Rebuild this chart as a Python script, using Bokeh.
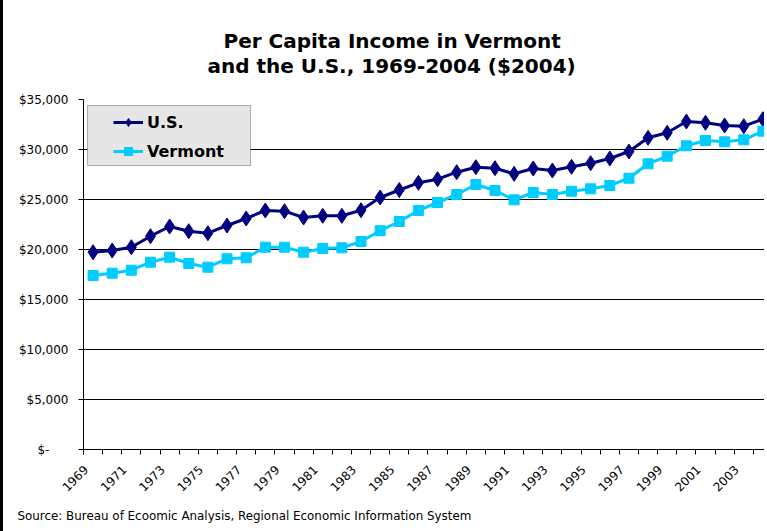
import math
from bokeh.plotting import figure
from bokeh.models import (ColumnDataSource, FixedTicker, Legend, LegendItem,
                          BoxAnnotation, Range1d, Title)
from bokeh.embed import file_html
from bokeh.resources import INLINE

years = list(range(1969, 2005))
us = [19730, 19900, 20230, 21330, 22300, 21830, 21630, 22400, 23100, 23900,
      23830, 23200, 23370, 23370, 23930, 25200, 25950, 26670, 27030, 27730,
      28230, 28130, 27570, 28100, 27900, 28270, 28630, 29100, 29800, 31170,
      31670, 32800, 32670, 32400, 32330, 33030]
vermont = [17400, 17630, 17930, 18730, 19230, 18600, 18230, 19070, 19170, 20230,
           20230, 19730, 20100, 20170, 20800, 21880, 22800, 23900, 24700, 25500,
           26500, 25900, 24970, 25700, 25500, 25830, 26070, 26400, 27130, 28570,
           29330, 30370, 30900, 30770, 30970, 31830]
x_label_years = list(range(1969, 2004, 2))
y_ticks = [0, 5000, 10000, 15000, 20000, 25000, 30000, 35000]
y_labels = ["$-", "$5,000", "$10,000", "$15,000", "$20,000", "$25,000", "$30,000", "$35,000"]

title_line1 = "Per Capita Income in Vermont"
title_line2 = "and the U.S., 1969-2004 ($2004)"
source_text = "Source: Bureau of Ecoomic Analysis, Regional Economic Information System"

FONT = "DejaVu Sans"
LABEL_SHIFT = 0.375  # rotated year labels end slightly left of their category centre

src = ColumnDataSource(dict(year=years, us=us, vt=vermont))

p = figure(width=764, height=531, x_range=Range1d(1968.5, 2004.24), y_range=Range1d(0, 35000),
           output_backend="svg", toolbar_location=None,
           min_border_left=80, min_border_right=0, min_border_top=99, min_border_bottom=82)
p.styles = {"border-left": "3px solid black"}
p.outline_line_color = None
p.background_fill_color = "white"
p.border_fill_color = "white"

# two-line centred title (first line indented with thin spaces to centre it)
p.title.text = "\u2009" * 4 + title_line1 + "\n" + title_line2
p.title.align = "left"
p.title.offset = 124
p.title.standoff = 43
p.title.text_font = FONT
p.title.text_font_size = "20px"
p.title.text_font_style = "bold"
p.title.text_color = "black"
p.title.text_line_height = 1.05

# grid
p.xgrid.visible = False
p.ygrid.grid_line_color = "black"
p.ygrid.grid_line_width = 1

# y axis
p.yaxis.ticker = FixedTicker(ticks=y_ticks)
overrides = {}
for t, lab in zip(y_ticks, y_labels):
    overrides[t] = lab if t != 0 else lab + "\u00a0" * 5
p.yaxis.major_label_overrides = overrides
p.yaxis.major_tick_out = 5
p.yaxis.major_tick_in = 0
p.yaxis.minor_tick_out = 0
p.yaxis.minor_tick_in = 0
p.yaxis.major_label_standoff = 10
p.yaxis.major_label_text_font = FONT
p.yaxis.major_label_text_font_size = "12px"
p.yaxis.major_label_text_color = "black"
p.yaxis.axis_line_color = "black"

# x axis
label_ticks = [y - LABEL_SHIFT for y in x_label_years]
p.xaxis.ticker = FixedTicker(ticks=label_ticks,
                             minor_ticks=[y - 0.5 for y in range(1969, 2006)])
p.xaxis.major_label_overrides = {t: str(y) for t, y in zip(label_ticks, x_label_years)}
p.xaxis.major_tick_out = 0
p.xaxis.major_tick_in = 0
p.xaxis.minor_tick_out = 5
p.xaxis.minor_tick_in = 0
p.xaxis.major_label_orientation = math.pi / 4
p.xaxis.major_label_standoff = 13
p.xaxis.major_label_text_font = FONT
p.xaxis.major_label_text_font_size = "12px"
p.xaxis.major_label_text_color = "black"
p.xaxis.axis_line_color = "black"

# source note
p.add_layout(Title(text=source_text, align="left", offset=-66, standoff=16,
                   text_font=FONT, text_font_size="11.9px", text_font_style="normal",
                   text_color="black"), "below")

# series
l1 = p.line("year", "us", source=src, line_color="#000080", line_width=3)
s1 = p.scatter("year", "us", source=src, marker="diamond", size=15, fill_color="#000080",
               line_color="#000080")
l2 = p.line("year", "vt", source=src, line_color="#00CCFF", line_width=3)
s2 = p.scatter("year", "vt", source=src, marker="square", size=10, fill_color="#00CCFF",
               line_color="#00CCFF")

# legend box
box = BoxAnnotation(left=1968.71, right=1977.23, top=34400, bottom=28400,
                    fill_color="#e6e6e6", fill_alpha=1, line_color="black", line_width=1)
p.add_layout(box)

legend = Legend(items=[LegendItem(label="U.S.", renderers=[l1, s1]),
                       LegendItem(label="Vermont", renderers=[l2, s2])],
                location=(30, 288), padding=0, margin=0, spacing=9,
                glyph_width=30, glyph_height=20, label_standoff=4,
                label_text_font=FONT, label_text_font_style="bold",
                label_text_font_size="16px", label_text_color="black",
                background_fill_alpha=0, border_line_color=None)
p.add_layout(legend)

open("out.html", "w").write(file_html(p, INLINE))
